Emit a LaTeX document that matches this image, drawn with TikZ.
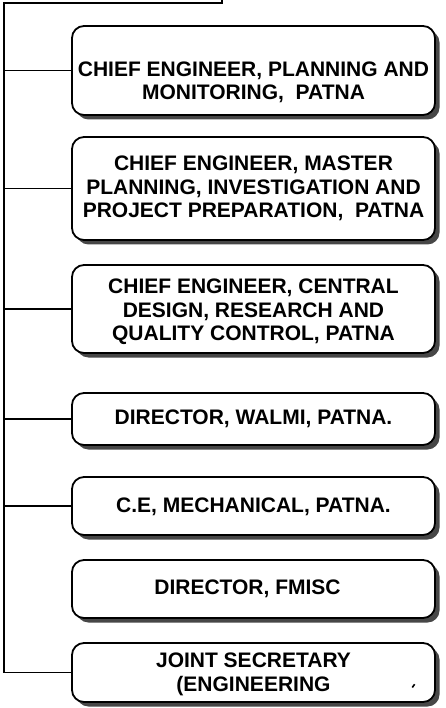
\documentclass[tikz,border=0pt]{standalone}
\usepackage{fontspec}
\setmainfont{Liberation Sans}
\usetikzlibrary{shadows}

\tikzset{
    post/.style={draw=black, line width=1.8pt, fill=white, rounded corners=12pt,
        minimum width=363pt, inner sep=0pt,
        drop shadow={shadow xshift=4.5pt, shadow yshift=-4.5pt, fill=black!72, opacity=1}},
    posttext/.style={align=center, inner sep=0pt,
        font=\fontsize{21}{23.5}\selectfont\bfseries},
    link/.style={line width=1.5pt}
}

\begin{document}
\begin{tikzpicture}[x=1pt,y=-1pt]
    \useasboundingbox (0,0) rectangle (446,708);
    % the posts, top to bottom
    \foreach \y/\h/\dx/\dy/\txt [count=\i] in {
        70.5/89/0/12/{CHIEF ENGINEER, PLANNING AND\\MONITORING,~ PATNA},
        188.5/103/0/0/{CHIEF ENGINEER, MASTER\\PLANNING, INVESTIGATION AND\\PROJECT PREPARATION,~ PATNA},
        309/88/0/3/{CHIEF ENGINEER, CENTRAL\\DESIGN, RESEARCH AND\\QUALITY CONTROL, PATNA},
        419/52/0/0/{DIRECTOR, WALMI, PATNA.},
        506/58/0/1/{C.E, MECHANICAL, PATNA.},
        589/58/-6/0/{DIRECTOR, FMISC},
        672.5/59/0/2/{JOINT SECRETARY\\(ENGINEERING}} {
        \node[post, minimum height=\h pt] (box\i) at (253.5,\y) {};
        \node[posttext] (label\i) at ([xshift=\dx pt, yshift=-\dy pt]box\i.center) {\txt};
    }
    % stray mark in the last post
    \draw[line width=1.6pt] (412.3,687.5) -- (414.6,684.2);
    % trunk
    \coordinate (head) at (222,-3);
    \coordinate (corner) at (4,3);
    \draw[link] (head) |- (corner) |- (box7.west);
    \foreach \i in {1,...,5} {
        \draw[link] (corner |- box\i.west) -- (box\i.west);
    }
\end{tikzpicture}
\end{document}
